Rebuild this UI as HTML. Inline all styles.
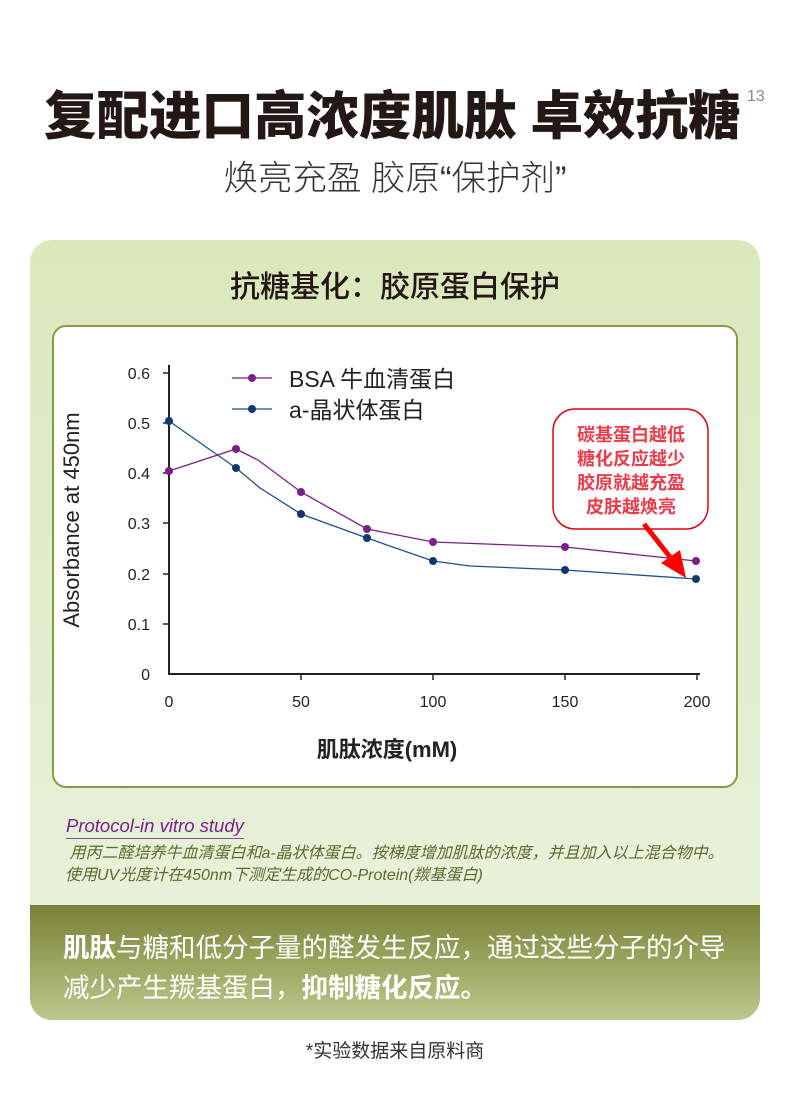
<!DOCTYPE html>
<html><head><meta charset="utf-8"><style>
body{margin:0;width:790px;height:1095px;background:#fff;position:relative;font-family:"Liberation Sans","Noto Sans CJK SC",sans-serif;overflow:hidden}
.a{position:absolute;white-space:nowrap}
</style></head><body>
<div class="a" style="left:44px;top:85px;font-size:52.5px;font-weight:900;color:#231815;line-height:64px">复配进口高浓度肌肽<span style="display:inline-block;width:14px"></span>卓效抗糖</div>
<div class="a" style="left:747px;top:88px;font-size:16px;color:#888">13</div>
<div class="a" style="left:0;width:790px;text-align:center;top:157px;font-size:34.5px;font-weight:300;color:#333;line-height:44px">焕亮充盈 胶原“保护剂”</div>
<div class="a" style="left:30px;top:240px;width:730px;height:780px;border-radius:22px;overflow:hidden;background:linear-gradient(#dbe8bc,#e6f1d8 80%)">
  <div class="a" style="left:0;width:730px;text-align:center;top:22px;font-size:30px;font-weight:500;color:#231815">抗糖基化：胶原蛋白保护</div>
  <div class="a" style="left:22px;top:85px;width:682px;height:459px;border:2px solid #8a9848;border-radius:14px;background:#fff"></div>
  <div class="a" style="left:36px;top:574px;font-size:18.5px;font-style:italic;color:#7a1f8a;border-bottom:1px solid #8a4a9a;line-height:24px">Protocol-in vitro study</div>
  <div class="a" style="left:35px;top:603px;font-size:16px;font-style:italic;color:#5a6a30;line-height:22px">&nbsp;用丙二醛培养牛血清蛋白和a-晶状体蛋白。按梯度增加肌肽的浓度，并且加入以上混合物中。<br>使用UV光度计在450nm下测定生成的CO-Protein(羰基蛋白)</div>
  <div class="a" style="left:0;top:665px;width:730px;height:115px;background:linear-gradient(#7a8038,#9aa660 50%,#bac98e)"></div>
  <div class="a" style="left:33px;top:688px;font-size:26.5px;color:#fff;line-height:40px">
  <b>肌肽</b>与糖和低分子量的醛发生反应，通过这些分子的介导<br>减少产生羰基蛋白，<b>抑制糖化反应。</b></div>
</div>
<svg class="a" style="left:0;top:0" width="790" height="1095">
<g font-family="Liberation Sans,sans-serif" font-size="16" fill="#222">
<line x1="169" y1="365" x2="169" y2="675" stroke="#222" stroke-width="2"/>
<line x1="168" y1="674" x2="700" y2="674" stroke="#222" stroke-width="2"/>
<g text-anchor="end">
<text x="150" y="680">0</text><text x="150" y="630">0.1</text><text x="150" y="580">0.2</text><text x="150" y="529">0.3</text><text x="150" y="479">0.4</text><text x="150" y="429">0.5</text><text x="150" y="379">0.6</text></g>
<g stroke="#222" stroke-width="1.5"><line x1="163" y1="624" x2="169" y2="624"/><line x1="163" y1="574" x2="169" y2="574"/><line x1="163" y1="523" x2="169" y2="523"/><line x1="163" y1="473" x2="169" y2="473"/><line x1="163" y1="423" x2="169" y2="423"/><line x1="163" y1="373" x2="169" y2="373"/>
<line x1="301" y1="674" x2="301" y2="680"/><line x1="433" y1="674" x2="433" y2="680"/><line x1="565" y1="674" x2="565" y2="680"/><line x1="697" y1="674" x2="697" y2="680"/></g>
<g text-anchor="middle"><text x="169" y="707">0</text><text x="301" y="707">50</text><text x="433" y="707">100</text><text x="565" y="707">150</text><text x="697" y="707">200</text></g>
<text x="79" y="520" transform="rotate(-90 79 520)" text-anchor="middle" font-size="22">Absorbance at 450nm</text>
<text x="387" y="757" text-anchor="middle" font-size="22" font-weight="bold" font-family="Liberation Sans,Noto Sans CJK SC,sans-serif">肌肽浓度(mM)</text>
</g>
<polyline fill="none" stroke="#7b1f86" stroke-width="1.3" points="169,471 236,449 258,460 301,492 367,529 433,542 565,547 696,561"/>
<polyline fill="none" stroke="#1f4f8f" stroke-width="1.3" points="169,421 236,468 260,488 301,514 367,538 433,561 470,566 565,570 696,579"/>
<g fill="#7b1f86"><circle cx="169" cy="471" r="4"/><circle cx="236" cy="449" r="4"/><circle cx="301" cy="492" r="4"/><circle cx="367" cy="529" r="4"/><circle cx="433" cy="542" r="4"/><circle cx="565" cy="547" r="4"/><circle cx="696" cy="561" r="4"/></g>
<g fill="#10386e"><circle cx="169" cy="421" r="4"/><circle cx="236" cy="468" r="4"/><circle cx="301" cy="514" r="4"/><circle cx="367" cy="538" r="4"/><circle cx="433" cy="561" r="4"/><circle cx="565" cy="570" r="4"/><circle cx="696" cy="579" r="4"/></g>
<line x1="232" y1="378" x2="272" y2="378" stroke="#7b1f86" stroke-width="1.3"/><circle cx="252" cy="378" r="4" fill="#7b1f86"/>
<line x1="232" y1="409" x2="272" y2="409" stroke="#1f4f8f" stroke-width="1.3"/><circle cx="252" cy="409" r="4" fill="#10386e"/>
<g font-size="23" fill="#222" font-family="Liberation Sans,Noto Sans CJK SC,sans-serif"><text x="289" y="387">BSA 牛血清蛋白</text><text x="289" y="418">a-晶状体蛋白</text></g>
<rect x="553" y="409" width="155" height="120" rx="22" fill="#fff" stroke="#e60012" stroke-width="1.5"/>
<g font-size="18" font-weight="bold" fill="#ee3b4a" font-family="Noto Sans CJK SC,sans-serif" text-anchor="middle"><text x="631" y="441">碳基蛋白越低</text><text x="631" y="465">糖化反应越少</text><text x="631" y="489">胶原就越充盈</text><text x="631" y="513">皮肤越焕亮</text></g>
<line x1="644" y1="524" x2="674" y2="562" stroke="#f00" stroke-width="5"/>
<polygon points="686,578 661,563 680,550" fill="#f00"/>
<text x="395" y="1057" text-anchor="middle" font-size="19" fill="#333" font-family="Liberation Sans,Noto Sans CJK SC,sans-serif">*实验数据来自原料商</text>
</svg>
</body></html>
